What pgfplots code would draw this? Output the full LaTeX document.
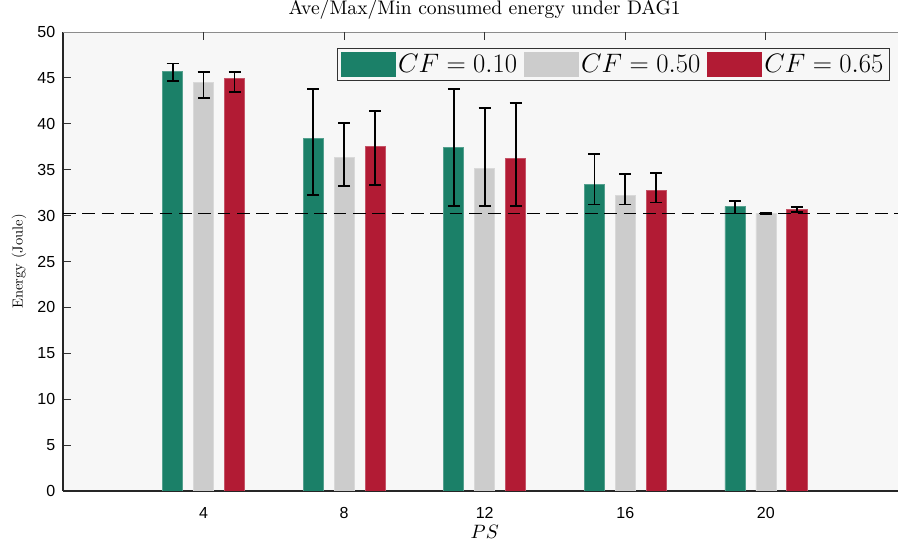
\RequirePackage{fix-cm}
\documentclass[border=0pt]{standalone}
\usepackage{fontspec}
\setsansfont{Liberation Sans}
\usepackage{pgfplots}
\usepackage{pgfplotstable}
\pgfplotsset{compat=1.18}

\definecolor{cfgreen}{RGB}{27,128,104}
\definecolor{cfgray}{RGB}{204,204,204}
\definecolor{cfred}{RGB}{178,27,52}
\definecolor{bgpanel}{RGB}{247,247,247}

% x  ave  err+  err-
\pgfplotstableread{
x  y      ep    em
4  45.67  0.91  0.97
8  38.40  5.40  6.16
12 37.45  6.33  6.41
16 33.37  3.31  2.15
20 30.97  0.61  0.73
}\tabA
\pgfplotstableread{
x  y      ep    em
4  44.50  1.17  1.70
8  36.35  3.75  3.15
12 35.15  6.55  4.11
16 32.17  2.36  0.95
20 30.24  0.06  0.06
}\tabB
\pgfplotstableread{
x  y      ep    em
4  44.98  0.69  1.48
8  37.55  3.85  4.25
12 36.24  6.01  5.20
16 32.75  1.89  1.31
20 30.68  0.22  0.30
}\tabC

\pgfplotsset{
  errs/.style={draw=none, mark=none, forget plot,
    error bars/.cd, y dir=both, y explicit,
    error bar style={draw=black, line width=1.3pt},
    error mark options={draw=black, line width=1.3pt, mark size=4.5pt, rotate=90}},
}

\begin{document}
\begin{tikzpicture}
\begin{axis}[
    name=ax,
    scale only axis,
    width=632.6pt, height=344.25pt,
    xmin=0, xmax=24,
    ymin=0, ymax=50,
    xtick={4,8,12,16,20},
    ytick={0,5,...,50},
    axis x line*=bottom,
    axis y line*=left,
    axis line style={black!85, line width=0.9pt},
    tick align=inside,
    major tick length=6pt,
    tick style={black!80, line width=0.6pt},
    tick label style={font=\fontsize{12}{14}\selectfont\sffamily},
    /pgf/number format/assume math mode=true,
    xticklabel style={yshift=-9pt},
    yticklabel style={xshift=-2.3pt},
    axis background/.style={fill=bgpanel},
    title={Ave/Max/Min consumed energy under DAG1},
    title style={font=\normalsize, scale=1.47, at={(axis description cs:0.5,1)}, anchor=base, yshift=4.6pt},
    ylabel={Energy (Joule)},
    ylabel style={font=\normalsize, scale=1.09, at={(axis description cs:-0.0522,0.5)}, anchor=center},
    xlabel={$PS$},
    xlabel style={font=\normalsize, scale=1.45, at={(axis description cs:0.5,-0.0882)}, anchor=center},
    legend columns=3,
    legend style={at={(0.98,0.965)}, anchor=north east, draw=black!80,
        fill=bgpanel, font=\fontsize{20}{23}\selectfont, inner sep=2.5pt,
        /tikz/every even column/.append style={column sep=3pt}},
]
\addplot[ybar, bar width=0.57, bar shift=-0.88, fill=cfgreen, draw=cfgreen!75!white, line width=0.5pt,
    legend image code/.code={\fill[cfgreen] (0pt,-9pt) rectangle (40.5pt,9pt);}]
    table[x=x, y=y] {\tabA};
\addlegendentry{$CF=0.10$}
\addplot[ybar, bar width=0.57, bar shift=0, fill=cfgray, draw=cfgray!75!white, line width=0.5pt,
    legend image code/.code={\fill[cfgray] (0pt,-9pt) rectangle (40.5pt,9pt);}]
    table[x=x, y=y] {\tabB};
\addlegendentry{$CF=0.50$}
\addplot[ybar, bar width=0.57, bar shift=0.88, fill=cfred, draw=cfred!75!white, line width=0.5pt,
    legend image code/.code={\fill[cfred] (0pt,-9pt) rectangle (40.5pt,9pt);}]
    table[x=x, y=y] {\tabC};
\addlegendentry{$CF=0.65$}
\addplot[errs] table[x expr=\thisrow{x}-0.88, y=y, y error plus=ep, y error minus=em] {\tabA};
\addplot[errs] table[x=x, y=y, y error plus=ep, y error minus=em] {\tabB};
\addplot[errs] table[x expr=\thisrow{x}+0.88, y=y, y error plus=ep, y error minus=em] {\tabC};
\addplot[black, line width=1pt, dash pattern=on 9.5pt off 5pt, forget plot]
    coordinates {(0,30.2) (24,30.2)};
% top border and its ticks
\draw[black!45, line width=0.6pt] (rel axis cs:0,1) -- (rel axis cs:1,1);
\pgfplotsinvokeforeach{4,8,12,16,20}{
    \draw[black!80, line width=0.6pt] (axis cs:#1,50) -- ++(0,-6pt);
}
\end{axis}
\pgfresetboundingbox
\path ([xshift=-47.25pt,yshift=-39.75pt]ax.south west) rectangle ([xshift=626.25pt,yshift=24pt]ax.north west);
\end{tikzpicture}
\end{document}
